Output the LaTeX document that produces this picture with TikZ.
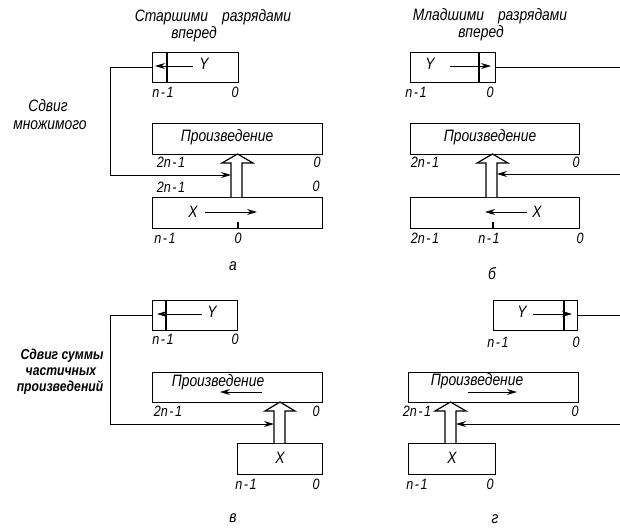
\documentclass[tikz,border=0pt]{standalone}
\usepackage{fontspec}
\setmainfont{Liberation Sans}[FakeStretch=0.84]
\usetikzlibrary{arrows.meta}

% wide hollow arrow: shaft left/right, head left/right, bottom, head base, tip
\newcommand\busarrow[7]{%
  \draw[bus] (#1,#5) -- (#1,#6) -- (#3,#6) -- ({(#3+#4)/2},#7)
    -- (#4,#6) -- (#2,#6) -- (#2,#5);}
% spaced digit index such as n-1
\newcommand\ix[1]{#1\kern1.5pt-\kern1.5pt1}

\begin{document}
\begin{tikzpicture}[x=1pt,y=-1pt,
  reg/.style={draw, line width=1.2pt, inner sep=0pt, anchor=north west},
  edge/.style={line width=1.2pt},
  txt/.style={font=\itshape\fontsize{16.5}{16.5}\selectfont, inner sep=0pt},
  idx/.style={font=\itshape\fontsize{15}{15}\selectfont, inner sep=0pt},
  side/.style={font=\bfseries\itshape\fontsize{14.5}{14.5}\selectfont, inner sep=0pt},
  flow/.style={line width=1pt, -{Stealth[length=10pt,width=6pt]}},
  bus/.style={line width=1.2pt, fill=white, line join=miter},
]
\clip (0,0) rectangle (620,528);

% ---------------- a: most significant digits first ----------------
\node[txt] (ha1) at (213,17) {Старшими\hspace{14pt}разрядами};
\node[txt] (ha2) at (194,34) {вперед};
\node[txt] (sa1) at (48,106) {Сдвиг};
\node[txt] (sa2) at (50,125) {множимого};

\node[reg, minimum width=86pt, minimum height=30pt] (Ya) at (152,52) {};
\draw[edge] (167,52) -- (167,82);
\node[txt] (Yat) at (204,64) {Y};
\coordinate (ya1) at (193,66); \coordinate (ya2) at (155,66);
\draw[flow] (ya1) -- (ya2);
\node[idx] at (163,92) {\ix{n}};
\node[idx] at (235,92) {0};

\node[reg, minimum width=170pt, minimum height=31pt] (Pa) at (152,123) {};
\node[txt] at (227,137) {Произведение};
\node[idx] at (171,162) {\ix{2n}};
\node[idx] at (317,162) {0};
\node[idx] at (171,187) {\ix{2n}};
\node[idx] at (316,186) {0};

\node[reg, minimum width=170pt, minimum height=31pt] (Xa) at (152,197) {};
\draw[edge] (238,222) -- (238,228);
\node[txt] (Xat) at (193,212) {X};
\coordinate (xa1) at (205,212); \coordinate (xa2) at (257,212);
\draw[flow] (xa1) -- (xa2);
\node[idx] at (165,238) {\ix{n}};
\node[idx] at (238,238) {0};

\busarrow{231}{242}{222}{253}{197}{163}{154}
\coordinate (ca) at (110,175); \coordinate (ea) at (231,175);
\draw[flow] (Ya.west) -| (ca) -- (ea);
\node[txt] at (233,266) {а};

% ---------------- б: least significant digits first ----------------
\node[txt] (hb1) at (490,16) {Младшими\hspace{14pt}разрядами};
\node[txt] (hb2) at (481,33) {вперед};

\node[reg, minimum width=85pt, minimum height=30pt] (Yb) at (410,52) {};
\draw[edge] (479,52) -- (479,82);
\node[txt] (Ybt) at (430,64) {Y};
\coordinate (yb1) at (450,66); \coordinate (yb2) at (491,66);
\draw[flow] (yb1) -- (yb2);
\node[idx] at (416,92) {\ix{n}};
\node[idx] at (490,92) {0};

\node[reg, minimum width=169pt, minimum height=31pt] (Pb) at (410,123) {};
\node[txt] at (490,137) {Произведение};
\node[idx] at (425,162) {\ix{2n}};
\node[idx] at (576,162) {0};

\node[reg, minimum width=169pt, minimum height=31pt] (Xb) at (410,197) {};
\draw[edge] (493,222) -- (493,228);
\node[txt] (Xbt) at (537,212) {X};
\coordinate (xb1) at (527,212); \coordinate (xb2) at (485,212);
\draw[flow] (xb1) -- (xb2);
\node[idx] at (425,238) {\ix{2n}};
\node[idx] at (489,238) {\ix{n}};
\node[idx] at (580,238) {0};

\busarrow{486}{497}{477}{508}{197}{163}{154}
\coordinate (cb) at (640,174); \coordinate (eb) at (497,174);
\draw[flow] (Yb.east) -| (cb) -- (eb);
\node[txt] at (492,274) {б};

% ---------------- в: shifting the partial sum ----------------
\node[side] (sv1) at (62,356) {Сдвиг суммы};
\node[side] (sv2) at (61,372) {частичных};
\node[side] (sv3) at (60,388) {произведений};

\node[reg, minimum width=85pt, minimum height=30pt] (Yv) at (152,300) {};
\draw[edge] (166,300) -- (166,330);
\node[txt] (Yvt) at (212,312) {Y};
\coordinate (yv1) at (202,314); \coordinate (yv2) at (157,314);
\draw[flow] (yv1) -- (yv2);
\node[idx] at (163,339) {\ix{n}};
\node[idx] at (235,339) {0};

\node[reg, minimum width=170pt, minimum height=30pt] (Pv) at (152,372) {};
\node[txt] at (218,382) {Произведение};
\coordinate (pv1) at (262,392); \coordinate (pv2) at (220,392);
\draw[flow] (pv1) -- (pv2);
\node[idx] at (168,411) {\ix{2n}};
\node[idx] at (316,411) {0};

\node[reg, minimum width=85pt, minimum height=31pt] (Xv) at (237,443) {};
\node[txt] (Xvt) at (280,458) {X};
\node[idx] at (246,484) {\ix{n}};
\node[idx] at (316,484) {0};

\busarrow{274}{285}{265}{295}{443}{411}{402}
\coordinate (cv) at (110,424); \coordinate (ev) at (274,424);
\draw[flow] (Yv.west) -| (cv) -- (ev);
\node[txt] at (233,518) {в};

% ---------------- г ----------------
\node[reg, minimum width=84pt, minimum height=30pt] (Yg) at (493,300) {};
\draw[edge] (564,300) -- (564,330);
\node[txt] (Ygt) at (522,312) {Y};
\coordinate (yg1) at (533,314); \coordinate (yg2) at (572,314);
\draw[flow] (yg1) -- (yg2);
\node[idx] at (498,342) {\ix{n}};
\node[idx] at (576,342) {0};

\node[reg, minimum width=170pt, minimum height=30pt] (Pg) at (408,372) {};
\node[txt] at (477,381) {Произведение};
\coordinate (pg1) at (468,392); \coordinate (pg2) at (517,392);
\draw[flow] (pg1) -- (pg2);
\node[idx] at (417,411) {\ix{2n}};
\node[idx] at (575,411) {0};

\node[reg, minimum width=87pt, minimum height=31pt] (Xg) at (408,443) {};
\node[txt] (Xgt) at (452,458) {X};
\node[idx] at (417,484) {\ix{n}};
\node[idx] at (490,484) {0};

\busarrow{445}{456}{435}{466}{443}{411}{402}
\coordinate (cg) at (640,424); \coordinate (eg) at (456,424);
\draw[flow] (Yg.east) -| (cg) -- (eg);
\node[txt] at (495,519) {г};
\end{tikzpicture}
\end{document}
